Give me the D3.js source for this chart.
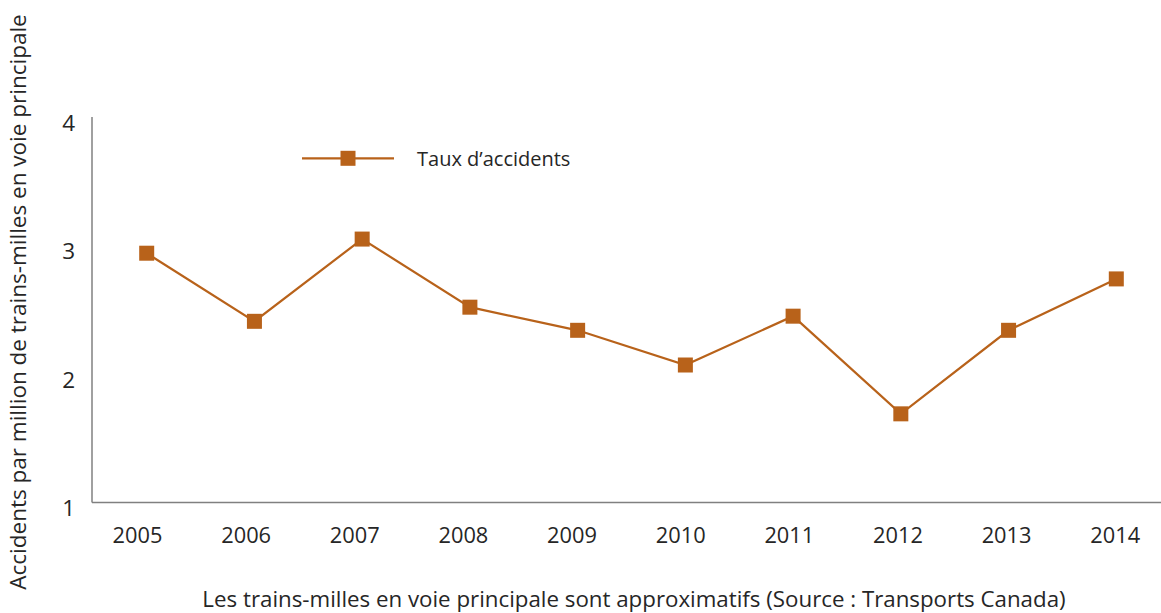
<!DOCTYPE html>
<html>
<head>
<meta charset="utf-8">
<script src="https://cdn.jsdelivr.net/npm/d3@7"></script>
<style>
  html, body { margin: 0; padding: 0; background: #fff; }
  svg { display: block; font-family: "Open Sans", "Noto Sans", sans-serif; }
</style>
</head>
<body>
<svg id="chart" width="1161" height="613"></svg>
<script>
// Accident rate per million main-track train-miles, 2005–2014
const years = ["2005", "2006", "2007", "2008", "2009", "2010", "2011", "2012", "2013", "2014"];
const accidentRate = [2.94, 2.41, 3.05, 2.52, 2.34, 2.07, 2.45, 1.69, 2.34, 2.74];
const yTicks = [1, 2, 3, 4];
const seriesName = "Taux d\u2019accidents";
const yTitle = "Accidents par million de trains-milles en voie principale";
const xTitle = "Les trains-milles en voie principale sont approximatifs (Source : Transports Canada)";

const W = 1161, H = 613;
const color = "#B8621A";
const textColor = "#262626";
const axisColor = "#808080";

const svg = d3.select("#chart");

const y = d3.scaleLinear().domain([1, 4]).range([502.5, 117]);
const xMark = d3.scalePoint().domain(years).range([146.7, 1116.3]);
const xLabel = d3.scalePoint().domain(years).range([137, 1114.7]);
const axisLeft = 92;

// axis lines
svg.append("line")
  .attr("x1", axisLeft).attr("x2", axisLeft)
  .attr("y1", y(4)).attr("y2", y(1))
  .attr("stroke", axisColor).attr("stroke-width", 1.5);
svg.append("line")
  .attr("x1", axisLeft).attr("x2", W)
  .attr("y1", y(1)).attr("y2", y(1))
  .attr("stroke", axisColor).attr("stroke-width", 1.5);

// y tick labels
const yAxis = d3.axisLeft(y).tickValues(yTicks).tickFormat(d3.format("d")).tickSize(0).tickPadding(0);
const gy = svg.append("g").attr("transform", `translate(${axisLeft - 17},0)`).call(yAxis);
gy.select(".domain").remove();
gy.selectAll("text")
  .attr("fill", textColor)
  .attr("font-size", 22.5)
  .attr("dy", "0.58em")
  .attr("font-family", "\"Open Sans\", sans-serif");

// x tick labels
const xAxis = d3.axisBottom(xLabel).tickSize(0).tickPadding(0);
const gx = svg.append("g").attr("transform", `translate(0,543)`).call(xAxis);
gx.select(".domain").remove();
gx.selectAll("text")
  .attr("fill", textColor)
  .attr("font-size", 21.8)
  .attr("dy", 0)
  .attr("font-family", "\"Open Sans\", sans-serif");

// series line
const line = d3.line()
  .x((d, i) => xMark(years[i]))
  .y(d => y(d));
svg.append("path")
  .datum(accidentRate)
  .attr("fill", "none")
  .attr("stroke", color)
  .attr("stroke-width", 2.2)
  .attr("d", line);

// square markers
const ms = 15;
svg.append("g").selectAll("rect")
  .data(accidentRate)
  .join("rect")
  .attr("x", (d, i) => xMark(years[i]) - ms / 2)
  .attr("y", d => y(d) - ms / 2)
  .attr("width", ms).attr("height", ms)
  .attr("fill", color);

// legend
const lg = svg.append("g").attr("transform", "translate(302,158.3)");
lg.append("line").attr("x1", 0).attr("x2", 92).attr("y1", 0).attr("y2", 0)
  .attr("stroke", color).attr("stroke-width", 2.2);
lg.append("rect").attr("x", 46 - ms / 2).attr("y", -ms / 2)
  .attr("width", ms).attr("height", ms).attr("fill", color);
lg.append("text").attr("x", 115).attr("y", 7.5)
  .attr("fill", textColor).attr("font-size", 20)
  .text(seriesName);

// axis titles
svg.append("text")
  .attr("transform", `translate(26,302) rotate(-90)`)
  .attr("text-anchor", "middle")
  .attr("fill", textColor)
  .attr("font-size", 22.5)
  .text(yTitle);

svg.append("text")
  .attr("x", 634).attr("y", 607)
  .attr("text-anchor", "middle")
  .attr("fill", textColor)
  .attr("font-size", 22.3)
  .text(xTitle);
</script>
</body>
</html>
